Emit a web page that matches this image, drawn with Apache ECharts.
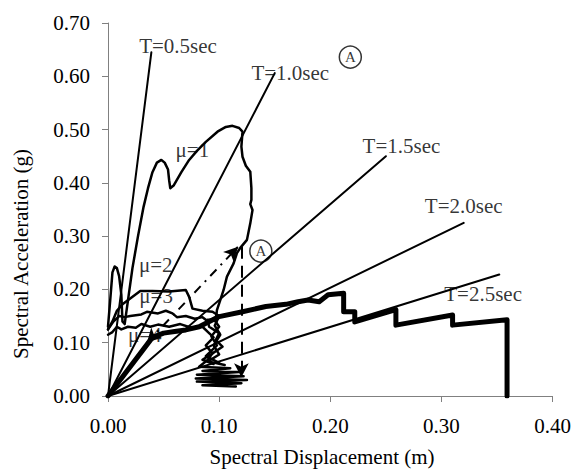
<!DOCTYPE html>
<html><head><meta charset="utf-8">
<script src="https://cdn.jsdelivr.net/npm/echarts@6.0.0/dist/echarts.min.js"></script>
<style>html,body{margin:0;padding:0;background:#fff}#c{width:574px;height:469px}</style>
</head><body><div id="c"></div>
<script>
// Axis ticks
const xTicks = [0.00, 0.10, 0.20, 0.30, 0.40];
const yTicks = [0.00, 0.10, 0.20, 0.30, 0.40, 0.50, 0.60, 0.70];

// Constant-period radial lines (Sd, Sa) end points
const periodNames = ['T=0.5sec', 'T=1.0sec', 'T=1.5sec', 'T=2.0sec', 'T=2.5sec'];
const periodEnds = [[0.039, 0.645], [0.150, 0.606], [0.250, 0.450], [0.320, 0.325], [0.352, 0.228]];
const periodLabelAt = [[0.063, 0.656], [0.164, 0.606], [0.264, 0.469], [0.320, 0.356], [0.3375, 0.191]];

// Demand spectra (Sd [m], Sa [g])
const mu1 = [[0,0.13],[0.002,0.18],[0.004,0.232],[0.006,0.243],[0.008,0.24],[0.010,0.225],[0.012,0.19],[0.013,0.14],[0.015,0.135],[0.018,0.18],[0.022,0.24],[0.027,0.30],[0.032,0.355],[0.036,0.39],[0.040,0.42],[0.044,0.438],[0.048,0.443],[0.051,0.438],[0.054,0.425],[0.055,0.405],[0.056,0.39],[0.059,0.395],[0.066,0.42],[0.073,0.443],[0.080,0.46],[0.088,0.477],[0.0985,0.496],[0.106,0.505],[0.112,0.507],[0.118,0.503],[0.121,0.496],[0.120,0.468],[0.121,0.449],[0.124,0.432],[0.128,0.421],[0.129,0.39],[0.129,0.368],[0.128,0.36],[0.130,0.349],[0.128,0.324],[0.125,0.293],[0.119,0.278],[0.116,0.268],[0.113,0.249],[0.107,0.224],[0.104,0.199],[0.101,0.18],[0.098,0.161],[0.097,0.143],[0.0896,0.143],[0.091,0.13],[0.100,0.118],[0.097,0.105],[0.103,0.0925],[0.094,0.08],[0.0896,0.0675],[0.082,0.055],[0.110,0.052],[0.085,0.047],[0.118,0.045],[0.080,0.040],[0.122,0.037],[0.079,0.033],[0.125,0.030],[0.080,0.027],[0.120,0.024],[0.085,0.020],[0.115,0.018]];
const mu2 = [[0,0.125],[0.004,0.14],[0.008,0.16],[0.013,0.172],[0.020,0.183],[0.029,0.197],[0.040,0.197],[0.055,0.196],[0.070,0.199],[0.073,0.186],[0.076,0.164],[0.085,0.160],[0.094,0.158],[0.100,0.150],[0.096,0.132],[0.101,0.115],[0.095,0.095],[0.100,0.078],[0.090,0.065],[0.105,0.058]];
const mu3 = [[0,0.125],[0.005,0.14],[0.010,0.150],[0.015,0.148],[0.020,0.150],[0.030,0.153],[0.035,0.158],[0.045,0.155],[0.052,0.160],[0.058,0.155],[0.062,0.148],[0.070,0.150],[0.078,0.145],[0.085,0.148],[0.090,0.140],[0.095,0.145],[0.100,0.130],[0.093,0.112],[0.098,0.095],[0.088,0.075],[0.100,0.062]];
const mu4 = [[0,0.115],[0.004,0.12],[0.008,0.13],[0.012,0.125],[0.018,0.130],[0.025,0.128],[0.030,0.135],[0.038,0.130],[0.045,0.134],[0.055,0.130],[0.065,0.135],[0.075,0.128],[0.085,0.130],[0.090,0.120],[0.095,0.110],[0.088,0.095],[0.094,0.080],[0.085,0.068],[0.095,0.060]];
const muNames = ['μ=1', 'μ=2', 'μ=3', 'μ=4'];
const muLabelAt = [[0.0759, 0.4625], [0.0429, 0.2458], [0.0433, 0.1886], [0.033, 0.1144]];

// Capacity spectrum (thick)
const capacity = [[0,0],[0.040,0.110],[0.050,0.118],[0.060,0.121],[0.070,0.124],[0.082,0.130],[0.100,0.149],[0.121,0.158],[0.142,0.168],[0.160,0.172],[0.171,0.177],[0.180,0.180],[0.190,0.177],[0.198,0.190],[0.212,0.193],[0.212,0.158],[0.222,0.158],[0.222,0.139],[0.259,0.162],[0.259,0.133],[0.310,0.152],[0.310,0.133],[0.359,0.143],[0.359,0]];

// Arrows and point A
const dashArrow = [[0.120, 0.280], [0.120, 0.035]];
const dashDotArrow = [[0.035, 0.100], [0.117, 0.280]];
const pointA = [[0.1375, 0.272], [0.218, 0.636]];

const FONT = 'Liberation Serif';
const chart = echarts.init(document.getElementById('c'), null, {renderer: 'svg'});
const lineS = (data, w) => ({type: 'line', data, symbol: 'none', silent: true, z: 3,
  lineStyle: {color: '#000', width: w, join: 'round', cap: 'round'}});
const series = [];
periodEnds.forEach(e => series.push(lineS([[0, 0], e], 2)));
[mu1, mu2, mu3, mu4].forEach(d => series.push(lineS(d, 2.5)));
series.push(Object.assign(lineS(capacity, 5), {z: 4}));
series.push({type: 'line', data: [], silent: true,
  markLine: {silent: true, symbol: ['none', 'arrow'], symbolSize: [11, 14], label: {show: false},
    lineStyle: {color: '#000', width: 2, type: [12, 7]},
    data: [[{coord: dashArrow[0]}, {coord: dashArrow[1]}]]}});
series.push({type: 'line', data: [], silent: true,
  markLine: {silent: true, symbol: ['arrow', 'arrow'], symbolSize: [11, 14], label: {show: false},
    lineStyle: {color: '#000', width: 2, type: [9, 6, 2, 6]},
    data: [[{coord: dashDotArrow[0]}, {coord: dashDotArrow[1]}]]}});
const labelData = periodNames.map((n, i) => ({value: periodLabelAt[i], name: n}))
  .concat(muNames.map((n, i) => ({value: muLabelAt[i], name: n})));
series.push({type: 'scatter', data: labelData, symbolSize: 0, silent: true, z: 5,
  label: {show: true, position: 'inside', formatter: p => p.name, color: '#000',
    fontFamily: FONT, fontSize: 21, align: 'center', verticalAlign: 'middle'}});
series.push({type: 'scatter', data: pointA, symbol: 'circle', symbolSize: 22, silent: true, z: 6,
  itemStyle: {color: 'rgba(255,255,255,0)', borderColor: '#000', borderWidth: 1.5},
  label: {show: true, position: 'inside', formatter: 'A', color: '#000', fontFamily: FONT, fontSize: 15}});

chart.setOption({
  animation: false,
  backgroundColor: '#fff',
  grid: {left: 108, right: 18, top: 23, bottom: 73, containLabel: false},
  xAxis: {type: 'value', min: xTicks[0], max: xTicks[xTicks.length - 1], interval: 0.1,
    axisLine: {onZero: false, lineStyle: {color: '#808080', width: 1}},
    axisTick: {show: true, length: 6, inside: false, lineStyle: {color: '#808080'}},
    splitLine: {show: false},
    axisLabel: {margin: 19, color: '#000', fontFamily: FONT, fontSize: 21, formatter: v => v.toFixed(2)}},
  yAxis: {type: 'value', min: yTicks[0], max: yTicks[yTicks.length - 1], interval: 0.1,
    axisLine: {show: true, onZero: false, lineStyle: {color: '#808080', width: 1}},
    axisTick: {show: true, length: 6, inside: false, lineStyle: {color: '#808080'}},
    splitLine: {show: false},
    axisLabel: {margin: 18, color: '#000', fontFamily: FONT, fontSize: 21, formatter: v => v.toFixed(2)}},
  graphic: [
    {type: 'text', x: 322, y: 446, style: {text: 'Spectral Displacement (m)',
      fill: '#000', font: '21px "Liberation Serif"', align: 'center', verticalAlign: 'top'}},
    {type: 'text', rotation: Math.PI / 2, x: 10, y: 254, style: {text: 'Spectral Acceleration (g)',
      fill: '#000', font: '21px "Liberation Serif"', align: 'center', verticalAlign: 'top'}}
  ],
  series
});
</script></body></html>
